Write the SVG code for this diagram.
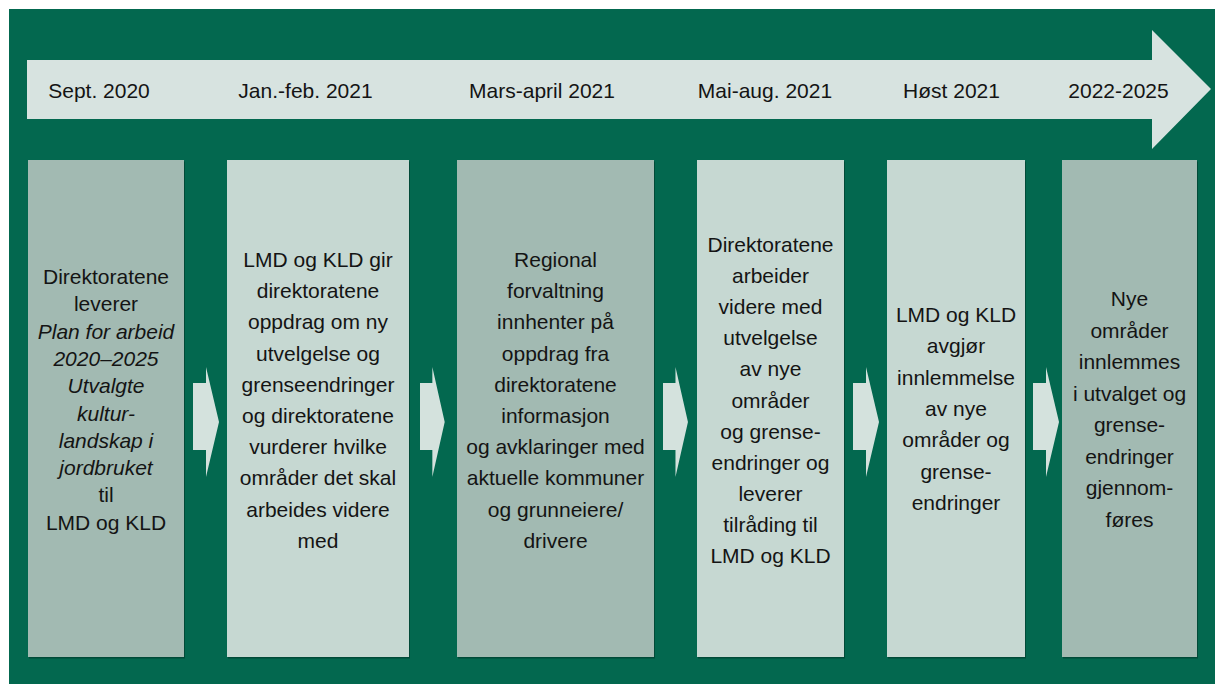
<svg xmlns="http://www.w3.org/2000/svg" width="1215" height="684" viewBox="0 0 1215 684">
<style>
  .bg { fill: #03684f; }
  .band { fill: #d7e3e0; }
  .dark { fill: #a2bab2; }
  .light { fill: #c6d8d2; }
  .shadow { fill: #014a38; }
  .conn { fill: #d4e2dd; }
  text { font-family: "Liberation Sans", Arial, sans-serif; font-size: 21px; fill: #141414; text-anchor: middle; }
  .it { font-style: italic; }
</style>
<defs>
  <path id="smallArrow" d="M0,16 H13 V0 L26,55 L13,110 V83 H0 Z"/>
</defs>
<rect class="bg" x="9" y="9" width="1206" height="675"/>

<g id="timeline">
  <polygon class="band" points="27,60 1152,60 1152,30 1211,89 1152,149 1152,119 27,119"/>
  <text x="99" y="98">Sept. 2020</text>
  <text x="305.5" y="98">Jan.-feb. 2021</text>
  <text x="542" y="98">Mars-april 2021</text>
  <text x="765" y="98">Mai-aug. 2021</text>
  <text x="951.5" y="98">Høst 2021</text>
  <text x="1118.5" y="98">2022-2025</text>
</g>

<g id="connectors">
  <use href="#smallArrow" class="conn" transform="translate(193,367)"/>
  <use href="#smallArrow" class="conn" transform="translate(420,367) scale(0.95,1)"/>
  <use href="#smallArrow" class="conn" transform="translate(663,367) scale(0.96,1)"/>
  <use href="#smallArrow" class="conn" transform="translate(853,367)"/>
  <use href="#smallArrow" class="conn" transform="translate(1033,367)"/>
</g>

<g id="box1">
  <rect class="shadow" x="29" y="161.5" width="156" height="497"/>
  <rect class="dark" x="28" y="160" width="156" height="497"/>
  <text x="106" y="284">Direktoratene</text>
  <text x="106" y="311.3">leverer</text>
  <text x="106" y="338.6" class="it">Plan for arbeid</text>
  <text x="106" y="365.9" class="it">2020–2025</text>
  <text x="106" y="393.2" class="it">Utvalgte</text>
  <text x="106" y="420.5" class="it">kultur-</text>
  <text x="106" y="447.8" class="it">landskap i</text>
  <text x="106" y="475.1" class="it">jordbruket</text>
  <text x="106" y="502.4">til</text>
  <text x="106" y="529.7">LMD og KLD</text>
</g>

<g id="box2">
  <rect class="shadow" x="228" y="161.5" width="182" height="497"/>
  <rect class="light" x="227" y="160" width="182" height="497"/>
  <text x="318" y="267">LMD og KLD gir</text>
  <text x="318" y="298.2">direktoratene</text>
  <text x="318" y="329.4">oppdrag om ny</text>
  <text x="318" y="360.6">utvelgelse og</text>
  <text x="318" y="391.8">grenseendringer</text>
  <text x="318" y="423">og direktoratene</text>
  <text x="318" y="454.2">vurderer hvilke</text>
  <text x="318" y="485.4">områder det skal</text>
  <text x="318" y="516.6">arbeides videre</text>
  <text x="318" y="547.8">med</text>
</g>

<g id="box3">
  <rect class="shadow" x="458" y="161.5" width="197" height="497"/>
  <rect class="dark" x="457" y="160" width="197" height="497"/>
  <text x="555.5" y="267">Regional</text>
  <text x="555.5" y="298.2">forvaltning</text>
  <text x="555.5" y="329.4">innhenter på</text>
  <text x="555.5" y="360.6">oppdrag fra</text>
  <text x="555.5" y="391.8">direktoratene</text>
  <text x="555.5" y="423">informasjon</text>
  <text x="555.5" y="454.2">og avklaringer med</text>
  <text x="555.5" y="485.4">aktuelle kommuner</text>
  <text x="555.5" y="516.6">og grunneiere/</text>
  <text x="555.5" y="547.8">drivere</text>
</g>

<g id="box4">
  <rect class="shadow" x="698" y="161.5" width="147" height="497"/>
  <rect class="light" x="697" y="160" width="147" height="497"/>
  <text x="770.5" y="252">Direktoratene</text>
  <text x="770.5" y="283.1">arbeider</text>
  <text x="770.5" y="314.2">videre med</text>
  <text x="770.5" y="345.3">utvelgelse</text>
  <text x="770.5" y="376.4">av nye</text>
  <text x="770.5" y="407.5">områder</text>
  <text x="770.5" y="438.6">og grense-</text>
  <text x="770.5" y="469.7">endringer og</text>
  <text x="770.5" y="500.8">leverer</text>
  <text x="770.5" y="531.9">tilråding til</text>
  <text x="770.5" y="563">LMD og KLD</text>
</g>

<g id="box5">
  <rect class="shadow" x="888" y="161.5" width="138" height="497"/>
  <rect class="light" x="887" y="160" width="138" height="497"/>
  <text x="956" y="322">LMD og KLD</text>
  <text x="956" y="353.3">avgjør</text>
  <text x="956" y="384.6">innlemmelse</text>
  <text x="956" y="415.9">av nye</text>
  <text x="956" y="447.2">områder og</text>
  <text x="956" y="478.5">grense-</text>
  <text x="956" y="509.8">endringer</text>
</g>

<g id="box6">
  <rect class="shadow" x="1063" y="161.5" width="135" height="497"/>
  <rect class="dark" x="1062" y="160" width="135" height="497"/>
  <text x="1129.5" y="306">Nye</text>
  <text x="1129.5" y="337.5">områder</text>
  <text x="1129.5" y="369">innlemmes</text>
  <text x="1129.5" y="400.5">i utvalget og</text>
  <text x="1129.5" y="432">grense-</text>
  <text x="1129.5" y="463.5">endringer</text>
  <text x="1129.5" y="495">gjennom-</text>
  <text x="1129.5" y="526.5">føres</text>
</g>
</svg>
